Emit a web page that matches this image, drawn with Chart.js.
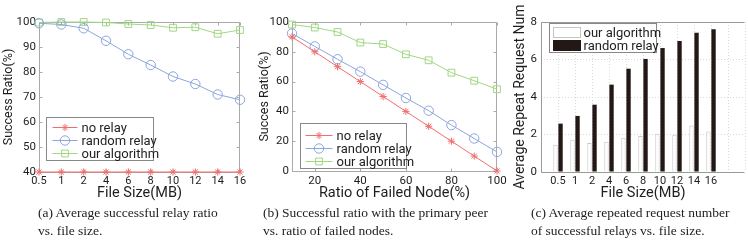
<!DOCTYPE html>
<html>
<head>
<meta charset="utf-8">
<script src="https://cdn.jsdelivr.net/npm/chart.js@4.4.1/dist/chart.umd.min.js"></script>
<style>
  html, body { margin: 0; padding: 0; background: #fff; }
  body { width: 748px; height: 244px; position: relative; overflow: hidden; }
  canvas { position: absolute; top: 0; }
  .cap { position: absolute; top: 204px; font-family: "Liberation Serif", "Times New Roman", serif;
         font-size: 13.5px; line-height: 18px; color: #222; white-space: nowrap; }
</style>
</head>
<body>
<canvas id="chartA" width="250" height="205" style="left:0px"></canvas>
<canvas id="chartB" width="262" height="205" style="left:250px"></canvas>
<canvas id="chartC" width="248" height="205" style="left:500px"></canvas>
<div class="cap" style="left:38px">(a) Average successful relay ratio<br>vs. file size.</div>
<div class="cap" style="left:263px">(b) Successful ratio with the primary peer<br>vs. ratio of failed nodes.</div>
<div class="cap" style="left:531px">(c) Average repeated request number<br>of successful relays vs. file size.</div>
<script>
// chart (a) and (c): file sizes in MB
const fileSizes = ['0.5', '1', '2', '4', '6', '8', '10', '12', '14', '16'];
const noRelayA = [40, 40, 40, 40, 40, 40, 40, 40, 40, 40];
const randomRelayA = [99.5, 99.0, 97.5, 92.5, 87.1, 82.8, 78.2, 75.2, 71.0, 68.9];
const ourAlgA = [99.8, 100, 100, 99.8, 99.2, 98.8, 97.7, 97.9, 95.3, 96.8];

// chart (b): ratio of failed nodes
const failedRatios = [10, 20, 30, 40, 50, 60, 70, 80, 90, 100];
const noRelayB = [90, 80, 70, 60, 50, 40, 30, 20, 10, 0];
const randomRelayB = [92.3, 83.6, 75.0, 66.7, 57.8, 49.0, 40.5, 30.8, 21.8, 12.8];
const ourAlgB = [98.3, 96.3, 93.3, 86.2, 85.2, 78.3, 74.3, 66.0, 60.6, 54.9];

// chart (c): repeated requests
const repeatOurs = [1.46, 1.72, 1.55, 1.62, 1.83, 1.92, 2.04, 1.99, 2.48, 2.16];
const repeatRandom = [2.58, 2.99, 3.59, 4.66, 5.51, 6.03, 6.61, 6.99, 7.43, 7.61];

const red = 'rgb(240,110,110)';
const blue = 'rgb(140,165,220)';
const green = 'rgb(160,215,130)';
const ink = '#1e1e1e';
const sans = 'Roboto, "Liberation Sans", Arial, sans-serif';

Chart.defaults.font.family = sans;
Chart.defaults.color = ink;

function drawMarker(ctx, style, x, y, r) {
  ctx.beginPath();
  if (style === 'circle') {
    ctx.arc(x, y, r, 0, Math.PI * 2);
  } else if (style === 'rect') {
    const s = r * Math.SQRT1_2;
    ctx.rect(x - s, y - s, 2 * s, 2 * s);
  } else if (style === 'star') {
    const d = r * Math.SQRT1_2;
    ctx.moveTo(x - r, y); ctx.lineTo(x + r, y);
    ctx.moveTo(x, y - r); ctx.lineTo(x, y + r);
    ctx.moveTo(x - d, y - d); ctx.lineTo(x + d, y + d);
    ctx.moveTo(x - d, y + d); ctx.lineTo(x + d, y - d);
  }
  ctx.stroke();
}

// matlab style box with inward ticks
const frame = {
  id: 'frame',
  beforeDatasetsDraw(chart, args, o) {
    const {ctx, chartArea: a} = chart;
    ctx.save();
    ctx.strokeStyle = o.color || '#999';
    ctx.lineWidth = 1;
    const L = Math.round(a.left) + 0.5, R = Math.round(a.right) - 0.5;
    const T = Math.round(a.top) + 0.5, B = Math.round(a.bottom) + 0.5;
    ctx.beginPath();
    ctx.moveTo(L, T); ctx.lineTo(R, T);
    ctx.moveTo(L, T); ctx.lineTo(L, B); ctx.lineTo(R, B);
    if (o.right !== false) { ctx.moveTo(R, T); ctx.lineTo(R, B); }
    if (o.ticks) {
      const xs = chart.scales.x, ys = chart.scales.y;
      xs.ticks.forEach((t, i) => {
        const px = Math.round(xs.getPixelForTick(i)) + 0.5;
        ctx.moveTo(px, B); ctx.lineTo(px, B - 3);
        ctx.moveTo(px, T); ctx.lineTo(px, T + 3);
      });
      ys.ticks.forEach((t, i) => {
        const py = Math.round(ys.getPixelForTick(i)) + 0.5;
        ctx.moveTo(L, py); ctx.lineTo(L + 3, py);
        ctx.moveTo(R, py); ctx.lineTo(R - 3, py);
      });
    }
    ctx.stroke();
    ctx.restore();
  }
};

const boxLegend = {
  id: 'boxLegend',
  afterDraw(chart, args, o) {
    const {ctx, chartArea: a} = chart;
    const x0 = Math.round(a.left + o.dx) + 0.5, y0 = Math.round(a.top + o.dy) + 0.5;
    ctx.save();
    ctx.fillStyle = '#fff';
    ctx.fillRect(x0, y0, o.w, o.h);
    ctx.strokeStyle = '#888';
    ctx.lineWidth = 1;
    ctx.strokeRect(x0, y0, o.w, o.h);
    ctx.font = '13px ' + sans;
    ctx.textBaseline = 'middle';
    chart.data.datasets.forEach((ds, i) => {
      const y = Math.round(y0 + o.top + i * o.row) + 0.5;
      if (chart.config.type === 'bar') {
        ctx.fillStyle = ds.backgroundColor;
        ctx.fillRect(x0 + 4, y - 5, 27, 10);
        ctx.strokeStyle = ds.borderColor;
        ctx.strokeRect(x0 + 4, y - 5, 27, 10);
      } else {
        ctx.strokeStyle = ds.borderColor;
        ctx.beginPath();
        ctx.moveTo(x0 + o.line[0], y); ctx.lineTo(x0 + o.line[1], y);
        ctx.stroke();
        drawMarker(ctx, ds.pointStyle, x0 + (o.line[0] + o.line[1]) / 2, y, ds.pointRadius);
      }
      ctx.fillStyle = ink;
      ctx.fillText(ds.label, x0 + o.textX, y + 1);
    });
    ctx.restore();
  }
};

function lineSets(noRelay, randomRelay, ourAlg) {
  return [
    { label: 'no relay', data: noRelay, borderColor: red, backgroundColor: red, borderWidth: 1,
      pointStyle: 'star', pointRadius: 3.6, pointBorderWidth: 1, clip: false },
    { label: 'random relay', data: randomRelay, borderColor: blue, backgroundColor: 'rgba(0,0,0,0)', borderWidth: 1,
      pointStyle: 'circle', pointRadius: 4.7, pointBorderWidth: 1, clip: false },
    { label: 'our algorithm', data: ourAlg, borderColor: green, backgroundColor: 'rgba(0,0,0,0)', borderWidth: 1,
      pointStyle: 'rect', pointRadius: 4.8, pointBorderWidth: 1, clip: false }
  ];
}

const baseOpts = {
  responsive: false,
  animation: false,
  devicePixelRatio: 1,
  events: []
};

new Chart(document.getElementById('chartA'), {
  type: 'line',
  data: { labels: fileSizes, datasets: lineSets(noRelayA, randomRelayA, ourAlgA) },
  plugins: [frame, boxLegend],
  options: {
    ...baseOpts,
    layout: { padding: { top: 22, right: 10, left: 0, bottom: 0 } },
    plugins: {
      legend: { display: false }, tooltip: { enabled: false },
      frame: { ticks: true, color: '#aaa' },
      boxLegend: { dx: 7, dy: 95, w: 107, h: 43, top: 9, row: 13, line: [6, 31], textX: 35 }
    },
    scales: {
      x: {
        type: 'category', offset: false,
        grid: { display: false, drawTicks: false }, border: { display: false },
        ticks: { padding: 3, font: { size: 11 }, maxRotation: 0, autoSkip: false },
        title: { display: true, text: 'File Size(MB)', font: { size: 14.5 }, padding: { top: 0, bottom: 3 } },
        afterFit(s) { s.height = 33; }
      },
      y: {
        min: 40, max: 100,
        grid: { display: false, drawTicks: false }, border: { display: false },
        ticks: { stepSize: 10, padding: 3, font: { size: 11.5 } },
        title: { display: true, text: 'Success Ratio(%)', font: { size: 12.5 }, padding: { top: 1, bottom: 0 } },
        afterFit(s) { s.width = 39; }
      }
    }
  }
});

new Chart(document.getElementById('chartB'), {
  type: 'line',
  data: { labels: failedRatios, datasets: lineSets(noRelayB, randomRelayB, ourAlgB) },
  plugins: [frame, boxLegend],
  options: {
    ...baseOpts,
    layout: { padding: { top: 22, right: 15, left: 0, bottom: 0 } },
    plugins: {
      legend: { display: false }, tooltip: { enabled: false },
      frame: { ticks: true, color: '#aaa' },
      boxLegend: { dx: 8, dy: 101, w: 106, h: 45, top: 11, row: 13, line: [5, 32], textX: 36 }
    },
    scales: {
      x: {
        type: 'linear', min: 10, max: 100,
        grid: { display: false, drawTicks: false }, border: { display: false },
        ticks: { stepSize: 20, padding: 3, font: { size: 11.5 }, maxRotation: 0 },
        afterBuildTicks(s) { s.ticks = s.ticks.filter(t => t.value % 20 === 0); },
        title: { display: true, text: 'Ratio of Failed Node(%)', font: { size: 14.5 }, padding: { top: 0, bottom: 3 } },
        afterFit(s) { s.height = 34; }
      },
      y: {
        min: 0, max: 100,
        grid: { display: false, drawTicks: false }, border: { display: false },
        ticks: { stepSize: 20, padding: 3, font: { size: 11.5 } },
        title: { display: true, text: 'Succes Ratio(%)', font: { size: 12.5 }, padding: { top: 7, bottom: 0 } },
        afterFit(s) { s.width = 42; }
      }
    }
  }
});

new Chart(document.getElementById('chartC'), {
  type: 'bar',
  data: {
    labels: fileSizes.map((_, i) => i + 1),
    datasets: [
      { label: 'our algorithm', data: repeatOurs, backgroundColor: '#ffffff', borderColor: '#c4c4c4', borderWidth: 1 },
      { label: 'random relay', data: repeatRandom, backgroundColor: '#231815', borderColor: '#231815', borderWidth: 0 }
    ]
  },
  plugins: [frame, boxLegend],
  options: {
    ...baseOpts,
    categoryPercentage: 0.6,
    barPercentage: 0.85,
    layout: { padding: { top: 22, right: 0, left: 0, bottom: 0 } },
    plugins: {
      legend: { display: false }, tooltip: { enabled: false },
      frame: { ticks: false, right: false, color: '#999' },
      boxLegend: { dx: 8, dy: 1, w: 107, h: 29, top: 8, row: 13, textX: 34 }
    },
    scales: {
      x: {
        type: 'linear', min: 0, max: 12, offset: false,
        grid: { display: true, drawTicks: false, offset: false, color: '#d8d8d8' },
        border: { display: false, dash: [1, 2] },
        ticks: { stepSize: 1, padding: 3, font: { size: 11 }, maxRotation: 0, autoSkip: false,
                 callback: v => fileSizes[v - 1] ?? '' },
        title: { display: true, text: 'File Size(MB)', font: { size: 14.5 }, padding: { top: 0, bottom: 3 } },
        afterFit(s) { s.height = 33; }
      },
      y: {
        min: 0, max: 8,
        grid: { display: true, drawTicks: false, color: '#d8d8d8' },
        border: { display: false, dash: [1, 2] },
        ticks: { stepSize: 2, padding: 4, font: { size: 11.5 } },
        title: { display: true, text: 'Average Repeat Request Num', font: { size: 14 }, padding: { top: 12, bottom: 0 } },
        afterFit(s) { s.width = 41; }
      }
    }
  }
});
</script>
</body>
</html>
